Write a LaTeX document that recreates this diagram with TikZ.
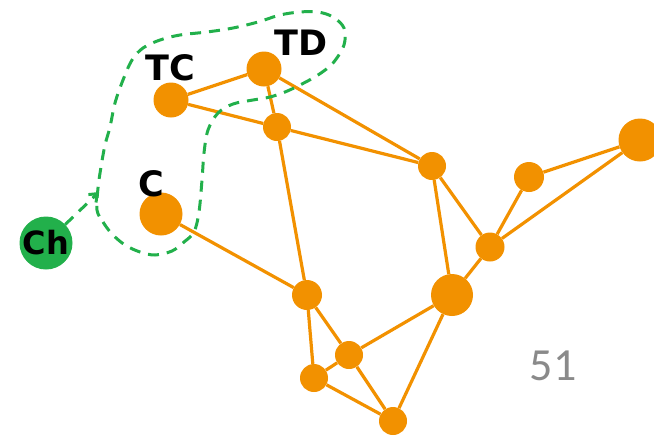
\documentclass[tikz,border=0pt]{standalone}
\usepackage{fontspec}
\newfontfamily\labfont{DejaVu Sans}
\newfontfamily\numfont{Carlito}
\usetikzlibrary{arrows.meta,backgrounds}
\definecolor{orng}{RGB}{242,145,0}
\definecolor{grn}{RGB}{34,176,75}
\definecolor{numgray}{RGB}{138,138,138}
\begin{document}
\begin{tikzpicture}[x=1pt,y=-1pt,
  dot/.style={circle,fill=orng,inner sep=0pt,minimum size=#1},
  edge/.style={draw=orng,line width=3.2pt},
  lab/.style={font=\labfont\bfseries\fontsize{35}{35}\selectfont,text=black,inner sep=0pt},
  loopline/.style={draw=grn,line width=3pt,dash pattern=on 11pt off 8pt}]
\useasboundingbox (0,0) rectangle (654,437);
% nodes
\node[dot=35pt] (tc) at (171,100) {};
\node[dot=35pt] (td) at (264,69) {};
\node[dot=28pt] (a) at (277,127) {};
\node[dot=43pt] (c) at (161,214) {};
\node[dot=28pt] (b) at (432,166) {};
\node[dot=43pt] (k) at (640,140) {};
\node[dot=30pt] (d) at (529,177) {};
\node[dot=29pt] (e) at (490,247) {};
\node[dot=42pt] (f) at (452,295) {};
\node[dot=30pt] (g) at (307,295) {};
\node[dot=28pt] (h) at (349,355) {};
\node[dot=28pt] (i) at (314,378) {};
\node[dot=28pt] (j) at (393,421) {};
% edges
\begin{pgfonlayer}{background}
\begin{scope}[every path/.style={edge}]
\path (tc) -- (td);
\path (tc) -- (a);
\path (td) -- (a);
\path (td) -- (b);
\path (a) -- (b);
\path (a) -- (g);
\path (c) -- (g);
\path (b) -- (e);
\path (b) -- (f);
\path (d) -- (e);
\path (d) -- (k);
\path (e) -- (k);
\path (e) -- (f);
\path (f) -- (h);
\path (f) -- (j);
\path (g) -- (h);
\path (g) -- (i);
\path (h) -- (i);
\path (h) -- (j);
\path (i) -- (j);
\end{scope}
\end{pgfonlayer}
% labels
\node[lab] (ltc) at (170,68) {TC};
\node[lab] (ltd) at (301,43) {TD};
\node[lab] (lc) at (151,184) {C};
% Ch
\node[circle,fill=grn,inner sep=0pt,minimum size=53pt,font=\labfont\bfseries\fontsize{32}{32}\selectfont] (ch) at (46,243) {Ch};
% green loop
\path[loopline] plot[smooth cycle,tension=0.55] coordinates {
(97,210) (103,222) (112,234) (125,245) (140,252) (155,255) (172,251) (184,242) (194,232) (199,212) (202,180) (204,153) (208,130) (218,113) (233,104) (253,100) (270,97) (285,92) (300,85) (318,75) (333,63) (344,45) (344,28) (333,17) (318,12) (300,12) (280,15) (258,22) (233,28) (207,32) (180,35) (160,40) (143,48) (132,60) (123,80) (115,103) (110,127) (105,145) (101,167) (98,188)};
\coordinate (tip) at (99,192);
\draw[loopline,-{Straight Barb[length=7pt,width=11pt]}] (ch) -- (tip);
% page number
\node[font=\numfont\fontsize{46}{46}\selectfont,text=numgray,inner sep=0pt] (num) at (553,366) {51};
\end{tikzpicture}
\end{document}
